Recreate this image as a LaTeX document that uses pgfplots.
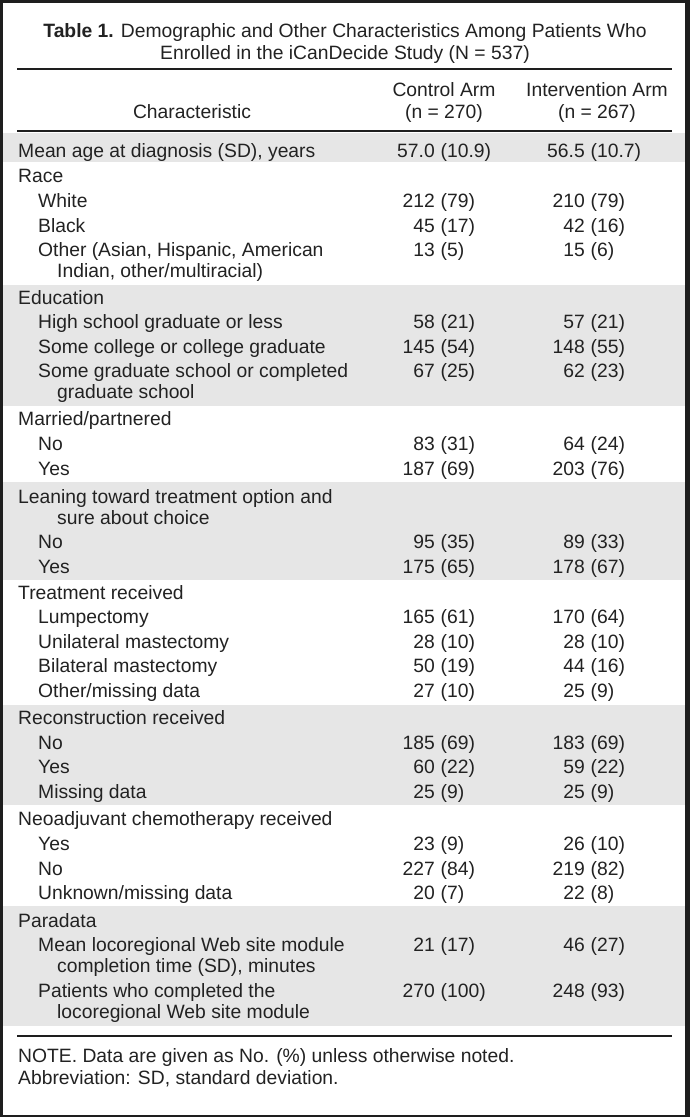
\documentclass[border=0pt]{standalone}
\usepackage{pgfplots}
\usepackage{pgfplotstable}
\pgfplotsset{compat=1.18}
\usepackage{fontspec}
\setmainfont{Liberation Sans}
\definecolor{framecol}{HTML}{1E1E1E}
\definecolor{band}{HTML}{E6E6E6}
\definecolor{ink}{HTML}{222222}
\newcommand\tf{\fontsize{19.3bp}{23bp}\selectfont}

% y = baseline (px from top), cn/cp = control number/percent, in/ip = intervention
\pgfplotstableread{
y      cn    cp     in    ip
157.5  57.0  (10.9) 56.5  (10.7)
207.5  212   (79)   210   (79)
232    45    (17)   42    (16)
256.5  13    (5)    15    (6)
328.5  58    (21)   57    (21)
353    145   (54)   148   (55)
377.5  67    (25)   62    (23)
450    83    (31)   64    (24)
475    187   (69)   203   (76)
548    95    (35)   89    (33)
573    175   (65)   178   (67)
623.5  165   (61)   170   (64)
648    28    (10)   28    (10)
672.5  50    (19)   44    (16)
697    27    (10)   25    (9)
749    185   (69)   183   (69)
773.5  60    (22)   59    (22)
798    25    (9)    25    (9)
850.5  23    (9)    26    (10)
875    227   (84)   219   (82)
899.5  20    (7)    22    (8)
951.5  21    (17)   46    (27)
997.5  270   (100)  248   (93)
}\valtab

\begin{document}
\begin{tikzpicture}[font=\tf, every node/.style={text=ink, inner sep=0pt}]
\begin{axis}[
  width=690bp, height=1117bp, scale only axis,
  xmin=0, xmax=690, ymin=0, ymax=1117, y dir=reverse,
  hide axis, clip=false, no markers,
]
% frame and page
\addplot[fill=framecol, draw=none] coordinates {(0,0) (690,0) (690,1117) (0,1117)} --cycle;
\addplot[fill=white, draw=none] coordinates {(3,3) (685,3) (685,1115) (3,1115)} --cycle;
% shaded bands
\addplot[fill=band, draw=none] coordinates {(3,133) (685,133) (685,162) (3,162)} --cycle;
\addplot[fill=band, draw=none] coordinates {(3,285) (685,285) (685,406) (3,406)} --cycle;
\addplot[fill=band, draw=none] coordinates {(3,482) (685,482) (685,580) (3,580)} --cycle;
\addplot[fill=band, draw=none] coordinates {(3,705) (685,705) (685,805) (3,805)} --cycle;
\addplot[fill=band, draw=none] coordinates {(3,906) (685,906) (685,1026) (3,1026)} --cycle;
% rules
\addplot[framecol, line width=2.6bp] coordinates {(17,69) (672,69)};
\addplot[framecol, line width=2.6bp] coordinates {(17,131) (672,131)};
\addplot[framecol, line width=2.6bp] coordinates {(17,1036) (672,1036)};

% values
\addplot[only marks, mark=*, mark size=0pt, mark options={draw=none, fill=none},
  nodes near coords, point meta=explicit symbolic,
  nodes near coords align={anchor=base east},
  every node near coord/.append style={font=\tf, text=ink, inner sep=0pt, anchor=base east}]
  table[x expr=435, y=y, meta=cn] {\valtab};
\addplot[only marks, mark=*, mark size=0pt, mark options={draw=none, fill=none},
  nodes near coords, point meta=explicit symbolic,
  nodes near coords align={anchor=base west},
  every node near coord/.append style={font=\tf, text=ink, inner sep=0pt, anchor=base west}]
  table[x expr=440.5, y=y, meta=cp] {\valtab};
\addplot[only marks, mark=*, mark size=0pt, mark options={draw=none, fill=none},
  nodes near coords, point meta=explicit symbolic,
  nodes near coords align={anchor=base east},
  every node near coord/.append style={font=\tf, text=ink, inner sep=0pt, anchor=base east}]
  table[x expr=585, y=y, meta=in] {\valtab};
\addplot[only marks, mark=*, mark size=0pt, mark options={draw=none, fill=none},
  nodes near coords, point meta=explicit symbolic,
  nodes near coords align={anchor=base west},
  every node near coord/.append style={font=\tf, text=ink, inner sep=0pt, anchor=base west}]
  table[x expr=590.5, y=y, meta=ip] {\valtab};

% title and header
\node[anchor=base] at (axis cs:345,38) {\textbf{Table 1.} Demographic and Other Characteristics Among Patients Who};
\node[anchor=base] at (axis cs:345,60) {Enrolled in the iCanDecide Study (N = 537)};
\node[anchor=base] at (axis cs:192,119) {Characteristic};
\node[anchor=base] at (axis cs:444,97) {Control Arm};
\node[anchor=base] at (axis cs:444,119) {(n = 270)};
\node[anchor=base] at (axis cs:597,97) {Intervention Arm};
\node[anchor=base] at (axis cs:597,119) {(n = 267)};

% row labels
\node[anchor=base west] at (axis cs:18,157.5) {Mean age at diagnosis (SD), years};
\node[anchor=base west] at (axis cs:18,183) {Race};
\node[anchor=base west] at (axis cs:38,207.5) {White};
\node[anchor=base west] at (axis cs:38,232) {Black};
\node[anchor=base west] at (axis cs:38,256.5) {Other (Asian, Hispanic, American};
\node[anchor=base west] at (axis cs:57,277) {Indian, other/multiracial)};
\node[anchor=base west] at (axis cs:18,304) {Education};
\node[anchor=base west] at (axis cs:38,328.5) {High school graduate or less};
\node[anchor=base west] at (axis cs:38,353) {Some college or college graduate};
\node[anchor=base west] at (axis cs:38,377.5) {Some graduate school or completed};
\node[anchor=base west] at (axis cs:57,398) {graduate school};
\node[anchor=base west] at (axis cs:18,425) {Married/partnered};
\node[anchor=base west] at (axis cs:38,450) {No};
\node[anchor=base west] at (axis cs:38,475) {Yes};
\node[anchor=base west] at (axis cs:18,503) {Leaning toward treatment option and};
\node[anchor=base west] at (axis cs:57,524) {sure about choice};
\node[anchor=base west] at (axis cs:38,548) {No};
\node[anchor=base west] at (axis cs:38,573) {Yes};
\node[anchor=base west] at (axis cs:18,599) {Treatment received};
\node[anchor=base west] at (axis cs:38,623.5) {Lumpectomy};
\node[anchor=base west] at (axis cs:38,648) {Unilateral mastectomy};
\node[anchor=base west] at (axis cs:38,672.5) {Bilateral mastectomy};
\node[anchor=base west] at (axis cs:38,697) {Other/missing data};
\node[anchor=base west] at (axis cs:18,724.5) {Reconstruction received};
\node[anchor=base west] at (axis cs:38,749) {No};
\node[anchor=base west] at (axis cs:38,773.5) {Yes};
\node[anchor=base west] at (axis cs:38,798) {Missing data};
\node[anchor=base west] at (axis cs:18,825.5) {Neoadjuvant chemotherapy received};
\node[anchor=base west] at (axis cs:38,850.5) {Yes};
\node[anchor=base west] at (axis cs:38,875) {No};
\node[anchor=base west] at (axis cs:38,899.5) {Unknown/missing data};
\node[anchor=base west] at (axis cs:18,927) {Paradata};
\node[anchor=base west] at (axis cs:38,951.5) {Mean locoregional Web site module};
\node[anchor=base west] at (axis cs:57,972.5) {completion time (SD), minutes};
\node[anchor=base west] at (axis cs:38,997.5) {Patients who completed the};
\node[anchor=base west] at (axis cs:57,1018.5) {locoregional Web site module};
% notes
\node[anchor=base west] at (axis cs:18,1062) {NOTE. Data are given as No. (\%) unless otherwise noted.};
\node[anchor=base west] at (axis cs:18,1084) {Abbreviation: SD, standard deviation.};
\end{axis}
\end{tikzpicture}
\end{document}
